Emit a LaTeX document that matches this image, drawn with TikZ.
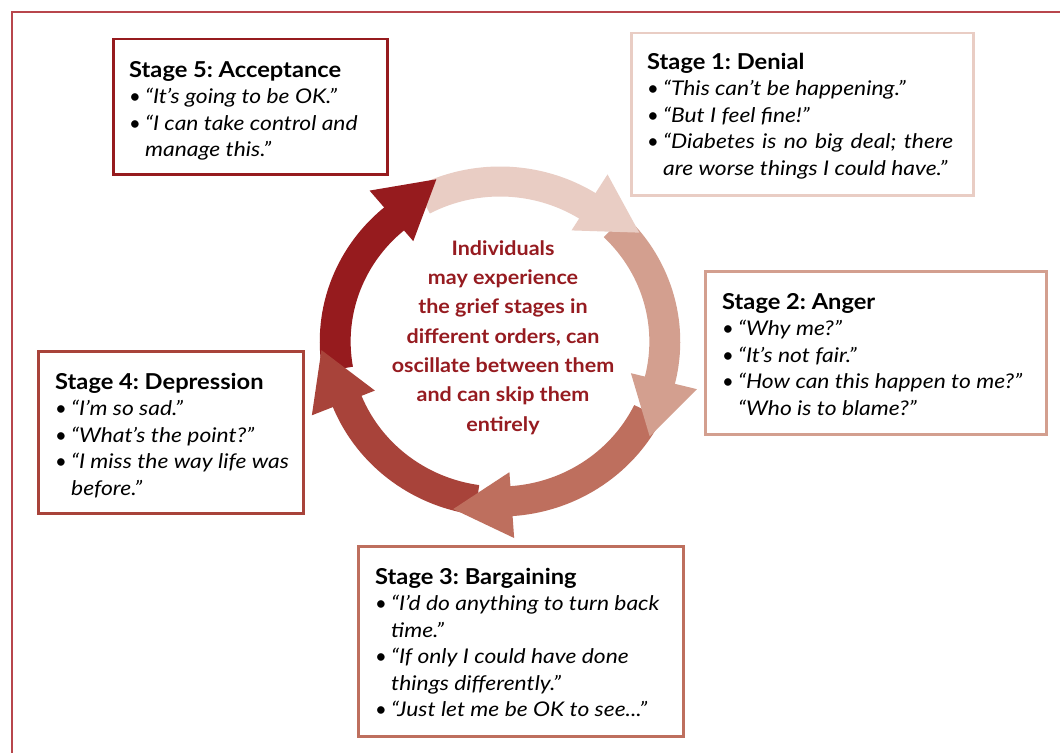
\documentclass[tikz,border=0pt]{standalone}
\usepackage{fontspec}
\setmainfont{Lato}[ItalicFeatures={FakeStretch=1.13}, BoldFeatures={FakeStretch=1.08}]
\definecolor{cAcc}{RGB}{150,27,30}
\definecolor{cDen}{RGB}{233,205,196}
\definecolor{cAng}{RGB}{211,159,143}
\definecolor{cBar}{RGB}{190,111,94}
\definecolor{cDep}{RGB}{168,67,58}
\definecolor{cFrame}{RGB}{184,70,76}
\definecolor{cText}{RGB}{150,27,32}
\frenchspacing
\newcommand\bl[1]{\makebox[16bp][l]{•}\textit{#1}}
\newcommand\ind[1]{\hspace*{16bp}\textit{#1}}
\newcommand\ttl[1]{{\fontsize{22}{26.6}\selectfont\bfseries #1}}
\begin{document}
\begin{tikzpicture}[x=1bp,y=-1bp,
  stagebox/.style={draw=#1, line width=2.5bp, fill=white, inner sep=0pt, anchor=north west},
  stagetext/.style={anchor=north west, inner sep=0pt, align=left, font=\fontsize{20.3}{26.6}\selectfont, text=black},
  centertext/.style={anchor=north, inner sep=0pt, align=center, font=\fontsize{20}{29.5}\selectfont\bfseries, text=cText},
]
\useasboundingbox (0,0) rectangle (1060,753);
\fill[white] (0,0) rectangle (1060,753);
\draw[cFrame, line width=1.5bp] (1060,12) -- (12,12) -- (12,753);

% boxes
\node[stagebox=cAcc, minimum width=274bp, minimum height=135bp] (b5) at (112,38) {};
\node[stagebox=cDen, minimum width=342bp, minimum height=162bp] (b1) at (630,32) {};
\node[stagebox=cAng, minimum width=341bp, minimum height=163bp] (b2) at (704,270) {};
\node[stagebox=cDep, minimum width=265bp, minimum height=162bp] (b4) at (37,350) {};
\node[stagebox=cBar, minimum width=325bp, minimum height=190bp] (b3) at (357,545) {};

\node[stagetext] (t5) at (129,61) {\ttl{Stage 5: Acceptance}\\
\bl{“It’s going to be OK.”}\\
\bl{“I can take control and}\\
\ind{manage this.”}};

\node[stagetext] (t1) at (647,53) {\ttl{Stage 1: Denial}\\
\bl{“This can’t be happening.”}\\
\bl{“But I feel fine!”}\\
\bl{\makebox[290bp][s]{“Diabetes is no big deal; there}}\\
\ind{are worse things I could have.”}};

\node[stagetext] (t2) at (722,293) {\ttl{Stage 2: Anger}\\
\bl{“Why me?”}\\
\bl{“It’s not fair.”}\\
\bl{“How can this happen to me?”}\\
\ind{“Who is to blame?”}};

\node[stagetext] (t4) at (55,373) {\ttl{Stage 4: Depression}\\
\bl{“I’m so sad.”}\\
\bl{“What’s the point?”}\\
\bl{“I miss the way life was}\\
\ind{before.”}};

\node[stagetext] (t3) at (375,568) {\ttl{Stage 3: Bargaining}\\
\bl{“I’d do anything to turn back}\\
\ind{time.”}\\
\bl{“If only I could have done}\\
\ind{things differently.”}\\
\bl{“Just let me be OK to see...”}};

% ring of arrows
\begin{scope}[shift={(500,341.5)}, yscale=-1, xscale=1.03]
  \foreach \b/\c in {130/cAcc, 58/cDen, -14/cAng, -86/cBar, -158/cDep} {
    \fill[\c] ({\b+60}:175) arc[start angle={\b+60}, end angle={\b-2}, radius=175]
      -- ({\b-2}:145) arc[start angle={\b-2}, end angle={\b+60}, radius=145] -- cycle;
  }
  \foreach \b/\c in {130/cAcc, 58/cDen, -14/cAng, -86/cBar, -158/cDep} {
    \fill[\c] ({\b}:197) -- ({\b-19.16}:173.6) -- ({\b}:131) -- cycle;
  }
\end{scope}

\node[centertext] (ctext) at (503,240) {Individuals\\may experience\\the grief stages in\\different orders, can\\oscillate between them\\and can skip them\\entirely};
\end{tikzpicture}
\end{document}
